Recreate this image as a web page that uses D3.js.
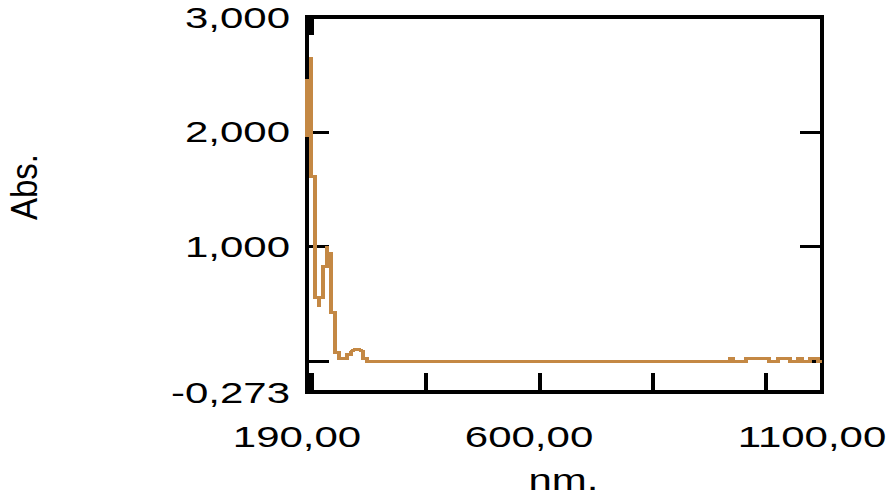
<!DOCTYPE html>
<html>
<head>
<meta charset="utf-8">
<script src="https://cdn.jsdelivr.net/npm/d3@7"></script>
<style>
  html, body { margin: 0; padding: 0; background: #ffffff; }
  svg { display: block; }
  text { font-family: "Liberation Sans", Arial, sans-serif; fill: #000; }
</style>
</head>
<body>
<script>
// Absorbance spectrum, 190–1100 nm
const wavelength = [
  190.0, 190.0, 197.1, 197.1, 197.1, 204.1, 204.1, 211.2, 211.2, 211.2,
  218.3, 218.3, 225.3, 225.3, 225.3, 232.4, 232.4, 239.5, 239.5, 246.5,
  246.5, 260.7, 260.7, 267.8, 267.8, 274.8, 281.9, 289.0, 289.0, 296.0,
  296.0, 937.4, 937.4, 942.7, 942.7, 965.7, 965.7, 1006.4, 1006.4, 1022.3,
  1022.3, 1043.5, 1043.5, 1057.6, 1057.6, 1064.7, 1064.7, 1078.8, 1078.8, 1093.0,
  1093.0, 1100.0
];
const absorbance = [
  1.957, 2.446, 2.446, 2.647, 1.612, 1.612, 0.556, 0.556, 0.473, 0.556,
  0.556, 0.822, 0.822, 0.997, 0.936, 0.936, 0.425, 0.425, 0.076, 0.076,
  0.019, 0.019, 0.050, 0.050, 0.080, 0.098, 0.098, 0.080, 0.019, 0.019,
  -0.007, -0.007, 0.019, 0.019, -0.007, -0.007, 0.019, 0.019, -0.007, -0.007,
  0.019, 0.019, -0.007, -0.007, 0.019, 0.019, -0.007, -0.007, 0.019, 0.019,
  -0.007, -0.007
];

const xDomain = [190, 1100];
const yDomain = [-0.273, 3];

const xTickValues = [400, 600, 800, 1000];
const xLabelValues = [190, 600, 1100];
const xLabelText = ["190,00", "600,00", "1100,00"];

const yTickValues = [0, 1, 2];
const yLabelValues = [3, 2, 1, -0.273];
const yLabelText = ["3,000", "2,000", "1,000", "-0,273"];

const xTitle = "nm.";
const yTitle = "Abs.";

// ---- layout ----
const W = 895, H = 499;
const plot = { left: 307, right: 822, top: 17, bottom: 392 };
const stretch = 1.4;            // wide glyph aspect of the instrument font
const lineColor = "#C48844";

const svg = d3.select("body").append("svg")
  .attr("width", W).attr("height", H);

const x = d3.scaleLinear().domain(xDomain).range([plot.left, plot.right]);
const y = d3.scaleLinear().domain(yDomain).range([plot.bottom, plot.top]);

function styleTicks(g, width) {
  g.select(".domain").remove();
  g.selectAll("text").remove();
  g.selectAll(".tick line")
    .attr("stroke", "#000")
    .attr("stroke-width", width)
    .attr("shape-rendering", "crispEdges");
}

// inward tick marks
svg.append("g").attr("transform", `translate(${plot.left},0)`)
  .call(d3.axisLeft(y).tickValues(yTickValues).tickSize(-22))
  .call(g => styleTicks(g, 3));
svg.append("g").attr("transform", `translate(${plot.right},0)`)
  .call(d3.axisRight(y).tickValues(yTickValues).tickSize(-22))
  .call(g => styleTicks(g, 3));
svg.append("g").attr("transform", `translate(0,${plot.bottom})`)
  .call(d3.axisBottom(x).tickValues(xTickValues).tickSize(-19))
  .call(g => styleTicks(g, 4));

// heavy marks at the start wavelength, top and bottom
svg.append("g").attr("transform", `translate(2,${plot.bottom})`)
  .call(d3.axisBottom(x).tickValues([xDomain[0]]).tickSize(-19))
  .call(g => styleTicks(g, 8));
svg.append("g").attr("transform", `translate(2,${plot.top})`)
  .call(d3.axisTop(x).tickValues([xDomain[0]]).tickSize(-18))
  .call(g => styleTicks(g, 8));

// frame
svg.append("rect")
  .attr("x", plot.left).attr("y", plot.top)
  .attr("width", plot.right - plot.left)
  .attr("height", plot.bottom - plot.top)
  .attr("fill", "none")
  .attr("stroke", "#000")
  .attr("stroke-width", 4)
  .attr("shape-rendering", "crispEdges");

// spectrum trace: drawn in a horizontally widened group so vertical
// strokes come out 4px wide and horizontal ones 3px tall
const sx = 4 / 3;
const xTrace = d3.scaleLinear().domain(xDomain)
  .range([plot.left / sx, plot.right / sx]);
const points = wavelength.map((w, i) => [w, absorbance[i]]);
svg.append("g").attr("transform", `scale(${sx},1)`)
  .append("path")
  .datum(points)
  .attr("d", d3.line().x(d => xTrace(d[0])).y(d => y(d[1])))
  .attr("fill", "none")
  .attr("stroke", lineColor)
  .attr("stroke-width", 3)
  .attr("stroke-linejoin", "miter")
  .attr("shape-rendering", "crispEdges");

// y labels
svg.append("g").selectAll("text")
  .data(yLabelValues)
  .join("text")
  .attr("transform", d => `translate(290,${y(d)}) scale(${stretch},1)`)
  .attr("dy", "0.36em")
  .attr("text-anchor", "end")
  .attr("font-size", 30)
  .text((d, i) => yLabelText[i]);

// x labels
svg.append("g").selectAll("text")
  .data(xLabelValues)
  .join("text")
  .attr("transform", d => `translate(${x(d) - 10},447) scale(${stretch},1)`)
  .attr("text-anchor", "middle")
  .attr("font-size", 30)
  .text((d, i) => xLabelText[i]);

// axis titles
svg.append("text")
  .attr("transform", `translate(${(plot.left + plot.right) / 2 - 1},490) scale(${stretch},1)`)
  .attr("text-anchor", "middle")
  .attr("font-size", 30)
  .text(xTitle);

svg.append("text")
  .attr("transform", `translate(37,187) scale(1.1,1) rotate(-90)`)
  .attr("text-anchor", "middle")
  .attr("font-size", 33)
  .text(yTitle);
</script>
</body>
</html>
